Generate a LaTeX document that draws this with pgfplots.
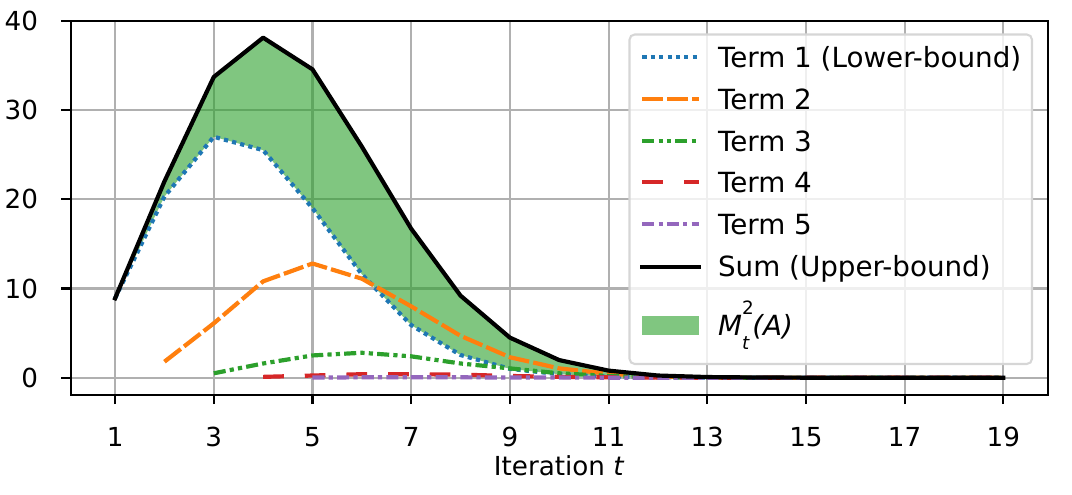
\documentclass[border=0pt]{standalone}
\usepackage{fontspec}
\setmainfont{DejaVu Sans}
\usepackage{pgfplots}
\pgfplotsset{compat=1.18}
\usepackage{pgfplotstable}
\usepgfplotslibrary{fillbetween}
\definecolor{tabblue}{HTML}{1F77B4}
\definecolor{taborange}{HTML}{FF7F0E}
\definecolor{tabgreen}{HTML}{2CA02C}
\definecolor{tabred}{HTML}{D62728}
\definecolor{tabpurple}{HTML}{9467BD}
\definecolor{fillgreen}{RGB}{128,198,128}
\definecolor{gridgray}{HTML}{B0B0B0}
\definecolor{legedge}{RGB}{214,214,214}
\newcommand\ls{\rule[-1.3pt]{0pt}{10.6pt}}

\pgfplotstableread{
x  s
1  8.9
2  22.0
3  33.7
4  38.1
5  34.55
6  25.9
7  16.7
8  9.2
9  4.5
10 1.98
11 0.8
12 0.25
13 0.08
14 0.03
15 0.01
16 0
17 0
18 0
19 0
}\sumtab
\pgfplotstableread{
x  y
1  8.9
2  20.3
3  27.0
4  25.5
5  19.0
6  11.6
7  5.9
8  2.55
9  1.0
10 0.4
11 0.15
12 0.05
13 0.02
14 0.01
15 0
16 0
17 0
18 0
19 0
}\tone
\pgfplotstableread{
x  y
2  1.8
3  6.1
4  10.8
5  12.8
6  11.1
7  8.0
8  4.7
9  2.3
10 1.05
11 0.45
12 0.13
13 0.04
14 0.01
15 0
16 0
17 0
18 0
19 0
}\ttwo
\pgfplotstableread{
x  y
3  0.5
4  1.6
5  2.5
6  2.8
7  2.4
8  1.6
9  1.05
10 0.5
11 0.2
12 0.06
13 0.02
14 0.01
15 0
16 0
17 0
18 0
19 0
}\tthree
\pgfplotstableread{
x  y
4  0.1
5  0.25
6  0.4
7  0.4
8  0.35
9  0.2
10 0.1
11 0.05
12 0.02
13 0.01
14 0
15 0
16 0
17 0
18 0
19 0
}\tfour
\pgfplotstableread{
x  y
5  0.02
6  0.05
7  0.06
8  0.05
9  0.03
10 0.02
11 0.01
12 0
13 0
14 0
15 0
16 0
17 0
18 0
19 0
}\tfive

\begin{document}
\begin{tikzpicture}
\begin{axis}[
  at={(0,0)}, anchor=south west,
  scale only axis, width=372.9pt, height=142.75pt,
  xmin=0.1, xmax=19.9, ymin=-1.9, ymax=40,
  xtick={1,3,...,19}, ytick={0,10,20,30,40},
  tick pos=left, tick align=outside, major tick length=3.6pt,
  every tick/.style={black, line width=0.8pt},
  axis line style={line width=0.9pt},
  grid=major, major grid style={gridgray, line width=0.8pt},
  set layers,
  ticklabel style={font=\fontsize{10}{12}\selectfont},
  /pgf/number format/assume math mode=true,
  xticklabel style={anchor=north, inner sep=0pt, yshift=-8.5pt},
  yticklabel style={anchor=east, inner sep=0pt, xshift=-8.66pt},
  xlabel={Iteration \textit{t}},
  xlabel style={at={(axis description cs:0.5,0)}, anchor=base, inner sep=0pt, yshift=-31pt, font=\fontsize{10}{12}\selectfont},
  legend cell align=left,
  legend image code/.code={\draw[#1] (0pt,0pt) -- (21.6pt,0pt);},
  legend style={at={(0.985,0.966)}, anchor=north east,
    draw=legedge, fill=white, fill opacity=0.8, text opacity=1,
    rounded corners=2pt, line width=0.8pt,
    inner xsep=4.1pt, inner ysep=3.36pt, row sep=5.3pt,
    font=\fontsize{10.6}{12}\selectfont,
    nodes={inner sep=0pt, text depth={}},
    /tikz/every odd column/.append style={column sep=6.5pt}},
]
\addplot[name path=T1, tabblue, line width=1.6pt, line join=round, dash pattern=on 1.6pt off 1.6pt] table[x=x,y=y] {\tone};
\addlegendentry{\ls Term 1 (Lower-bound)}
\addplot[taborange, line width=1.6pt, line join=round, dash pattern=on 7.9pt off 1.6pt] table[x=x,y=y] {\ttwo};
\addlegendentry{\ls Term 2}
\addplot[tabgreen, line width=1.6pt, line join=round, dash pattern=on 4.6pt off 1.6pt on 1.6pt off 1.6pt on 1.6pt off 1.6pt] table[x=x,y=y] {\tthree};
\addlegendentry{\ls Term 3}
\addplot[tabred, line width=1.6pt, line join=round, dash pattern=on 7.9pt off 8pt] table[x=x,y=y] {\tfour};
\addlegendentry{\ls Term 4}
\addplot[tabpurple, line width=1.6pt, line join=round, dash pattern=on 4.6pt off 1.6pt on 1.6pt off 1.6pt] table[x=x,y=y] {\tfive};
\addlegendentry{\ls Term 5}
\addplot[name path=S, black, line width=1.6pt, line join=round, line cap=rect] table[x=x,y=s] {\sumtab};
\addlegendentry{\ls Sum (Upper-bound)}
\addplot[fill=tabgreen, fill opacity=0.6, draw=none,
  legend image code/.code={\fill[fillgreen, fill opacity=1, sharp corners] (0pt,-3.55pt) rectangle (21.6pt,3.55pt);}]
  fill between[of=S and T1];
\addlegendentry{\rule[-7.7pt]{0pt}{22.65pt}\textit{M}\rlap{\raisebox{7.9pt}{\fontsize{7}{7}\selectfont 2}}\raisebox{-5.6pt}{\fontsize{7}{7}\selectfont\itshape t}\hspace{1.2pt}\textit{(A)}}
\end{axis}
\pgfresetboundingbox
\path[use as bounding box] (-26.98pt,-37.9pt) rectangle (382.17pt,150.65pt);
\end{tikzpicture}
\end{document}
